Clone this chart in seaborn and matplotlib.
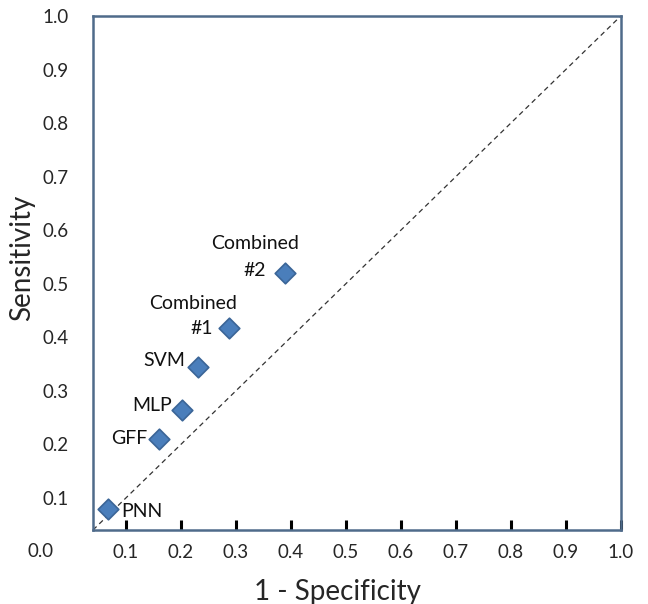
import matplotlib
matplotlib.use("Agg")
import matplotlib.pyplot as plt
import seaborn as sns
import pandas as pd

# ROC points
models = ["PNN", "GFF", "MLP", "SVM", "Combined #1", "Combined #2"]
one_minus_spec = [0.067, 0.160, 0.202, 0.231, 0.287, 0.389]
sensitivity = [0.079, 0.210, 0.264, 0.344, 0.417, 0.520]
ticks = [0.1, 0.2, 0.3, 0.4, 0.5, 0.6, 0.7, 0.8, 0.9, 1.0]

df = pd.DataFrame({"x": one_minus_spec, "y": sensitivity, "model": models})

sns.set_style("white")
plt.rcParams["font.family"] = ["Lato", "DejaVu Sans"]

fig = plt.figure(figsize=(6.48, 6.04), dpi=100)
ax = fig.add_axes([0.1435, 0.1225, 0.8145, 0.851])

# diagonal reference line
ax.plot([0.04, 1.0], [0.04, 1.0], ls=(0, (4, 3)), color="#333333", lw=0.9, zorder=1)

sns.scatterplot(data=df, x="x", y="y", marker="D", s=110, color="#4a7ebb",
                edgecolor="#3b6597", linewidth=1.2, ax=ax, zorder=3)

# label offsets in pixels: (dx, dy, ha)
offsets = {
    "PNN": [(13, -2, "left", "PNN")],
    "GFF": [(-12, 0, "right", "GFF")],
    "MLP": [(-10, 5, "right", "MLP")],
    "SVM": [(-13, 7, "right", "SVM")],
    "Combined #1": [(-16, 0, "right", "#1"), (-36, 25, "center", "Combined")],
    "Combined #2": [(-19, 3, "right", "#2"), (-30, 30, "center", "Combined")],
}
for m, xv, yv in zip(models, one_minus_spec, sensitivity):
    for dx, dy, ha, txt in offsets[m]:
        ax.annotate(txt, (xv, yv), xytext=(dx, dy), textcoords="offset pixels",
                    ha=ha, va="center", fontsize=14, color="#111111")

ax.set_xlim(0.04, 1.0)
ax.set_ylim(0.04, 1.0)
ax.set_xticks(ticks)
ax.set_yticks(ticks)
ax.set_xticklabels([f"{t:.1f}" for t in ticks])
ax.set_yticklabels([f"{t:.1f}" for t in ticks])
ax.tick_params(axis="x", bottom=True, direction="in", length=7, width=2.2,
               color="black", labelsize=13.5, pad=10)
ax.tick_params(axis="y", left=False, labelsize=13.5, pad=14)
ax.text(-0.056, 0.0, "0.0", ha="center", va="center", fontsize=13.5,
        clip_on=False, transform=ax.transData)
ax.set_xlabel("")
ax.set_ylabel("")

for sp in ax.spines.values():
    sp.set_color("#4f6b8a")
    sp.set_linewidth(1.8)
    sp.set_visible(True)

fig.text(337 / 648, 1 - 592 / 604, "1 - Specificity", ha="center", va="center",
         fontsize=20)
fig.text(22 / 648, 1 - 258 / 604, "Sensitivity", ha="center", va="center",
         rotation=90, fontsize=20)

fig.savefig("out.png", dpi=100)
